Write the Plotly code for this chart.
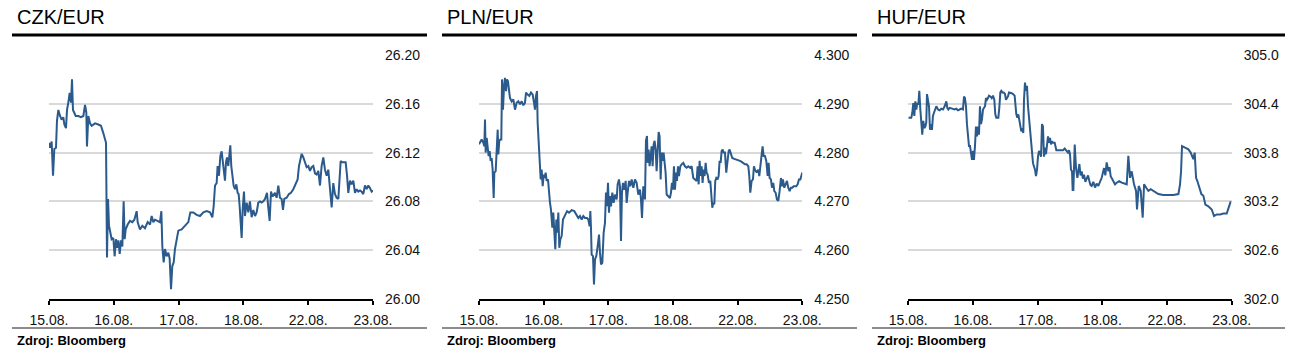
import plotly.graph_objects as go

W, H = 1303, 356

date_labels = ["15.08.", "16.08.", "17.08.", "18.08.", "22.08.", "23.08."]
titles = ["CZK/EUR", "PLN/EUR", "HUF/EUR"]
source_text = "Zdroj: Bloomberg"

czk_ticks = [26.00, 26.04, 26.08, 26.12, 26.16, 26.20]
pln_ticks = [4.250, 4.260, 4.270, 4.280, 4.290, 4.300]
huf_ticks = [302.0, 302.6, 303.2, 303.8, 304.4, 305.0]

# time in trading-day units (0 = 15.08., 5 = 23.08.)
czk_t = [0.000,0.015,0.041,0.062,0.082,0.108,0.123,0.144,0.170,0.195,0.221,0.237,0.262,0.278,0.298,0.319,0.340,0.355,0.370,0.391,
         0.412,0.453,0.494,0.530,0.556,0.576,0.586,0.607,0.633,0.658,0.710,0.761,0.802,0.838,0.864,0.880,0.895,0.911,0.926,0.947,
         0.967,0.993,1.013,1.034,1.049,1.070,1.091,1.111,1.132,1.152,1.168,1.183,1.214,1.250,1.286,1.317,1.353,1.368,1.404,1.440,
         1.481,1.523,1.559,1.584,1.610,1.636,1.677,1.713,1.734,1.749,1.770,1.790,1.816,1.842,1.862,1.883,1.903,1.924,1.944,1.970,
         1.996,2.047,2.099,2.150,2.181,2.227,2.279,2.330,2.382,2.433,2.485,2.521,2.541,2.562,
         2.587,2.602,2.623,2.644,2.664,2.680,2.695,2.716,2.731,2.747,2.767,2.783,2.798,2.813,2.829,2.849,2.870,2.891,2.911,2.927,
         2.942,2.957,2.973,2.988,3.009,3.024,3.050,3.076,3.101,3.127,3.153,3.179,3.204,3.230,3.256,3.281,3.307,3.333,3.364,3.384,
         3.405,3.426,3.451,3.487,3.513,3.539,3.564,3.590,3.611,3.631,3.667,3.703,3.734,3.770,3.806,3.837,3.858,3.878,3.899,3.925,
         3.950,3.976,4.002,4.027,4.053,4.079,4.105,4.130,4.156,4.182,4.207,4.233,4.259,4.285,4.310,4.336,4.362,4.387,4.413,4.439,
         4.465,4.480,4.501,4.526,4.552,4.578,4.598,4.619,4.645,4.670,4.696,4.722,4.748,4.773,4.799,4.825,4.850,4.876,4.902,4.928,
         4.953,4.979,5.000]
czk_v = [26.128,26.124,26.129,26.101,26.123,26.124,26.146,26.155,26.150,26.147,26.149,26.143,26.140,26.155,26.161,26.169,26.161,26.180,26.155,26.153,
         26.150,26.150,26.149,26.150,26.159,26.153,26.125,26.150,26.144,26.142,26.144,26.143,26.142,26.136,26.132,26.128,26.034,26.082,26.060,26.054,
         26.049,26.050,26.035,26.049,26.042,26.048,26.037,26.048,26.043,26.080,26.049,26.057,26.061,26.064,26.063,26.065,26.072,26.063,26.057,26.060,
         26.058,26.063,26.061,26.068,26.063,26.065,26.064,26.063,26.072,26.043,26.030,26.041,26.035,26.038,26.033,26.008,26.027,26.030,26.041,26.050,
         26.056,26.057,26.060,26.063,26.071,26.071,26.069,26.068,26.071,26.072,26.071,26.067,26.076,26.093,
         26.095,26.109,26.101,26.117,26.121,26.112,26.103,26.097,26.112,26.116,26.109,26.123,26.126,26.109,26.102,26.093,26.090,26.094,26.087,26.086,
         26.076,26.060,26.050,26.073,26.088,26.068,26.079,26.071,26.080,26.067,26.073,26.068,26.071,26.079,26.080,26.079,26.080,26.082,26.087,26.075,
         26.064,26.088,26.084,26.087,26.083,26.093,26.083,26.082,26.073,26.082,26.083,26.086,26.087,26.090,26.095,26.098,26.109,26.113,26.119,26.116,
         26.112,26.108,26.109,26.105,26.108,26.109,26.103,26.102,26.105,26.093,26.109,26.116,26.106,26.101,26.106,26.090,26.075,26.095,26.086,26.083,
         26.082,26.095,26.113,26.112,26.112,26.112,26.102,26.087,26.097,26.094,26.097,26.087,26.090,26.088,26.089,26.088,26.086,26.093,26.090,26.093,
         26.091,26.088,26.089]

pln_t = [0.000,0.021,0.041,0.067,0.082,0.093,0.103,0.119,0.134,0.149,0.165,0.180,0.196,0.211,0.227,0.237,0.258,0.273,0.289,0.299,
         0.314,0.330,0.345,0.356,0.371,0.387,0.402,0.418,0.433,0.448,0.464,0.479,0.505,0.531,0.557,0.582,0.608,0.634,0.660,0.686,
         0.711,0.727,0.753,0.778,0.804,0.830,0.851,0.866,0.881,0.897,0.907,0.923,0.938,0.954,0.969,0.985,1.000,1.015,1.031,1.046,
         1.067,1.082,1.098,1.113,1.134,1.149,1.165,1.180,1.196,1.211,1.227,1.242,1.258,1.278,1.299,1.320,1.340,1.361,1.392,1.433,
         1.474,1.510,1.536,1.562,1.588,1.613,1.639,1.670,1.691,1.711,1.722,1.732,1.742,1.763,1.778,1.794,1.814,1.835,1.856,1.871,
         1.887,1.907,1.928,1.948,1.964,1.979,1.995,2.010,2.026,2.041,2.062,2.082,2.103,2.129,2.144,2.165,2.180,2.196,2.211,2.227,
         2.247,2.268,2.284,2.299,2.320,2.340,2.361,2.387,2.412,2.438,2.464,2.490,2.505,2.521,2.541,2.567,
         2.582,2.598,2.608,2.623,2.639,2.654,2.670,2.685,2.701,2.716,2.732,2.747,2.763,2.778,2.793,2.809,2.824,2.840,2.855,2.871,
         2.886,2.902,2.928,2.953,2.969,2.984,3.000,3.015,3.031,3.046,3.062,3.077,3.092,3.113,3.134,3.159,3.185,3.211,3.237,3.263,
         3.288,3.314,3.340,3.366,3.381,3.397,3.412,3.428,3.443,3.458,3.474,3.489,3.505,3.520,3.536,3.556,3.577,3.593,3.608,3.623,
         3.639,3.654,3.670,3.690,3.706,3.721,3.737,3.752,3.768,3.783,3.804,3.824,3.845,3.861,3.876,3.897,3.917,3.948,3.984,4.010,
         4.036,4.062,4.087,4.113,4.139,4.165,4.180,4.196,4.216,4.237,4.252,4.268,4.294,4.319,4.335,4.350,4.371,4.386,4.402,4.422,
         4.443,4.464,4.479,4.495,4.515,4.531,4.551,4.567,4.587,4.608,4.629,4.649,4.670,4.685,4.701,4.721,4.742,4.763,4.783,4.804,
         4.825,4.845,4.866,4.886,4.907,4.928,4.948,4.969,4.990,5.000]
pln_v = [4.2817,4.2824,4.2827,4.2820,4.2813,4.2868,4.2800,4.2830,4.2813,4.2793,4.2803,4.2783,4.2789,4.2765,4.2707,4.2759,4.2762,4.2824,4.2847,4.2796,
         4.2824,4.2827,4.2827,4.2950,4.2888,4.2936,4.2953,4.2926,4.2950,4.2946,4.2923,4.2912,4.2905,4.2909,4.2888,4.2902,4.2905,4.2899,4.2905,4.2897,
         4.2902,4.2923,4.2919,4.2916,4.2923,4.2919,4.2902,4.2888,4.2916,4.2926,4.2861,4.2827,4.2779,4.2745,4.2765,4.2731,4.2755,4.2748,4.2759,4.2742,
         4.2745,4.2718,4.2697,4.2683,4.2646,4.2677,4.2632,4.2602,4.2663,4.2636,4.2677,4.2605,4.2622,4.2629,4.2663,4.2670,4.2673,4.2680,4.2677,4.2682,
         4.2680,4.2673,4.2666,4.2670,4.2663,4.2670,4.2666,4.2666,4.2663,4.2649,4.2680,4.2646,4.2591,4.2588,4.2530,4.2581,4.2588,4.2608,4.2632,4.2595,
         4.2571,4.2574,4.2636,4.2656,4.2718,4.2690,4.2738,4.2677,4.2711,4.2690,4.2718,4.2697,4.2714,4.2704,4.2735,4.2745,4.2731,4.2619,4.2718,4.2738,
         4.2724,4.2742,4.2697,4.2718,4.2742,4.2731,4.2745,4.2728,4.2745,4.2738,4.2714,4.2724,4.2704,4.2666,4.2731,4.2704,
         4.2824,4.2834,4.2779,4.2806,4.2772,4.2793,4.2813,4.2772,4.2817,4.2824,4.2806,4.2762,4.2813,4.2842,4.2834,4.2745,4.2800,4.2783,4.2800,4.2779,
         4.2759,4.2714,4.2711,4.2707,4.2718,4.2738,4.2724,4.2772,4.2724,4.2759,4.2742,4.2772,4.2752,4.2772,4.2776,4.2779,4.2772,4.2769,4.2772,4.2769,
         4.2772,4.2748,4.2745,4.2742,4.2772,4.2735,4.2783,4.2752,4.2772,4.2738,4.2765,4.2752,4.2779,4.2759,4.2755,4.2738,4.2742,4.2704,4.2687,4.2697,
         4.2694,4.2742,4.2748,4.2745,4.2752,4.2783,4.2779,4.2803,4.2806,4.2800,4.2800,4.2759,4.2779,4.2803,4.2806,4.2794,4.2789,4.2787,4.2786,4.2785,
         4.2783,4.2781,4.2779,4.2776,4.2776,4.2772,4.2752,4.2718,4.2742,4.2745,4.2772,4.2765,4.2759,4.2765,4.2752,4.2779,4.2796,4.2813,4.2793,4.2793,
         4.2783,4.2752,4.2779,4.2748,4.2745,4.2728,4.2738,4.2721,4.2718,4.2704,4.2701,4.2721,4.2748,4.2731,4.2745,4.2728,4.2735,4.2742,4.2728,4.2721,
         4.2728,4.2728,4.2731,4.2731,4.2731,4.2735,4.2745,4.2745,4.2752,4.2759]

huf_t = [0.000,0.021,0.046,0.062,0.077,0.093,0.108,0.124,0.139,0.155,0.170,0.186,0.201,0.216,0.232,0.247,0.263,0.278,0.289,0.304,
         0.320,0.335,0.351,0.366,0.381,0.397,0.412,0.433,0.459,0.485,0.510,0.536,0.562,0.588,0.603,0.619,0.639,0.665,0.691,0.716,
         0.742,0.768,0.794,0.820,0.845,0.861,0.876,0.892,0.907,0.923,0.938,0.954,0.969,0.985,1.000,1.015,1.031,1.046,1.062,1.077,
         1.093,1.108,1.124,1.139,1.155,1.170,1.186,1.201,1.216,1.232,1.247,1.268,1.289,1.309,1.330,1.345,1.361,1.376,1.392,1.407,
         1.423,1.438,1.454,1.474,1.495,1.510,1.526,1.541,1.557,1.577,1.598,1.619,1.644,1.670,1.686,1.701,1.716,1.732,1.747,1.763,
         1.778,1.789,1.804,1.820,1.835,1.851,1.866,1.881,1.897,1.912,1.928,1.943,1.959,1.974,1.990,2.005,2.021,2.036,2.052,2.067,
         2.082,2.098,2.113,2.129,2.144,2.160,2.175,2.191,2.206,2.222,2.237,2.263,2.289,2.314,2.340,2.366,2.392,2.418,2.443,2.469,
         2.485,2.500,2.515,2.531,2.541,
         2.552,2.573,2.593,2.614,2.630,2.645,2.663,2.681,2.699,2.717,2.738,2.758,2.779,2.799,2.817,2.835,2.861,2.887,2.912,2.938,
         2.964,2.990,3.008,3.026,3.046,3.067,3.093,3.111,3.129,3.150,3.170,3.196,3.222,3.260,3.299,3.338,3.377,3.402,3.428,3.454,
         3.490,3.521,3.536,3.562,3.593,3.624,3.645,3.676,3.712,3.748,3.789,3.830,3.866,3.944,4.021,4.098,
         4.176,4.201,4.217,4.232,4.279,4.330,4.366,4.407,4.428,4.449,4.469,4.500,4.531,4.562,4.593,4.639,4.691,4.727,4.768,4.820,
         4.871,4.923,4.954,4.985]
huf_v = [304.23,304.23,304.23,304.29,304.41,304.25,304.43,304.33,304.41,304.39,304.56,304.33,304.15,304.02,304.19,304.10,304.12,304.17,304.52,304.41,
         304.37,304.08,304.15,304.08,304.25,304.29,304.33,304.37,304.33,304.32,304.34,304.33,304.37,304.43,304.35,304.33,304.35,304.34,304.34,304.33,
         304.34,304.32,304.33,304.34,304.33,304.49,304.47,304.37,304.15,304.00,303.88,303.88,303.82,303.71,303.82,303.71,303.88,304.12,304.00,304.12,
         304.02,304.37,304.15,304.21,304.33,304.35,304.37,304.47,304.45,304.47,304.50,304.49,304.47,304.50,304.45,304.27,304.23,304.23,304.23,304.35,
         304.54,304.56,304.54,304.54,304.52,304.45,304.47,304.49,304.54,304.53,304.53,304.52,304.50,304.27,304.23,304.27,304.19,304.12,304.06,304.10,
         304.04,304.45,304.66,304.56,304.62,304.37,304.23,304.04,303.92,303.78,303.67,303.63,303.59,303.51,303.59,303.75,303.82,303.80,303.75,304.15,
         304.12,303.75,303.86,303.78,303.90,304.00,303.92,303.98,303.90,303.94,303.92,303.92,303.83,303.83,303.83,303.83,303.83,303.85,303.83,303.80,
         303.83,303.78,303.59,303.57,303.34,
         303.34,303.90,303.61,303.49,303.62,303.66,303.52,303.57,303.48,303.53,303.44,303.47,303.52,303.45,303.40,303.39,303.44,303.37,303.42,303.39,
         303.44,303.49,303.55,303.61,303.52,303.68,303.57,303.62,303.51,303.48,303.45,303.41,303.43,303.45,303.43,303.42,303.41,303.76,303.49,303.57,
         303.41,303.33,303.10,303.39,303.33,303.00,303.41,303.37,303.33,303.35,303.33,303.31,303.29,303.28,303.28,303.28,
         303.29,303.41,303.57,303.88,303.86,303.84,303.80,303.72,303.80,303.49,303.45,303.37,303.29,303.27,303.16,303.14,303.10,303.02,303.04,303.04,
         303.05,303.05,303.12,303.20]

series = [(czk_t, czk_v, czk_ticks, ".2f"), (pln_t, pln_v, pln_ticks, ".3f"), (huf_t, huf_v, huf_ticks, ".1f")]

# pixel layout helpers
def px_x(p):
    return p / W

def px_y(p):
    return 1 - p / H

x_domains = [(49, 373), (479, 802.3), (908.3, 1231.7)]
panel_lines = [(12, 427), (442, 857), (872, 1285)]
y_dom = [px_y(299), px_y(55)]

FONT = "Liberation Sans, Arial, sans-serif"
LINE_COLOR = "#2b5a8c"

fig = go.Figure()
layout = dict(
    template="none",
    width=W, height=H, autosize=False, margin=dict(l=0, r=0, t=0, b=0, pad=0),
    paper_bgcolor="white", plot_bgcolor="white", showlegend=False,
    font=dict(family=FONT, size=14, color="#111111"),
)
shapes, annotations = [], []

for i, (t, v, ticks, fmt) in enumerate(series):
    n = "" if i == 0 else str(i + 1)
    fig.add_trace(go.Scatter(x=t, y=v, mode="lines", line=dict(color=LINE_COLOR, width=2),
                             xaxis="x" + n, yaxis="y" + n, hoverinfo="skip"))
    layout["xaxis" + n] = dict(
        domain=[px_x(x_domains[i][0]), px_x(x_domains[i][1])], anchor="y" + n,
        range=[0, 5], tickvals=list(range(len(date_labels))), ticktext=date_labels,
        showgrid=False, zeroline=False, showline=True, linecolor="black", linewidth=2,
        ticks="outside", ticklen=4, tickwidth=2, tickcolor="black", automargin=False,
        tickfont=dict(family=FONT, size=14, color="#111111"), ticklabelstandoff=3,
        fixedrange=True,
    )
    layout["yaxis" + n] = dict(
        domain=y_dom, anchor="x" + n, side="right",
        range=[ticks[0], ticks[-1]], tickvals=ticks, tickformat=fmt,
        showgrid=True, gridcolor="#d9d9d9", gridwidth=2, zeroline=False, showline=False,
        ticks="", ticklabelstandoff=11, automargin=False,
        tickfont=dict(family=FONT, size=14, color="#111111"), fixedrange=True,
    )
    x0, x1 = panel_lines[i]
    shapes.append(dict(type="line", xref="paper", yref="paper", x0=px_x(x0), x1=px_x(x1),
                       y0=px_y(35), y1=px_y(35), line=dict(color="black", width=3)))
    shapes.append(dict(type="line", xref="paper", yref="paper", x0=px_x(x0), x1=px_x(x1),
                       y0=px_y(328), y1=px_y(328), line=dict(color="#8c8c8c", width=2)))
    annotations.append(dict(text=titles[i], xref="paper", yref="paper", x=px_x(x0 + 3), y=px_y(17),
                            xanchor="left", yanchor="middle", showarrow=False,
                            font=dict(family=FONT, size=20, color="black")))
    annotations.append(dict(text="<b>" + source_text + "</b>", xref="paper", yref="paper",
                            x=px_x(x0 + 3), y=px_y(340), xanchor="left", yanchor="middle",
                            showarrow=False, font=dict(family=FONT, size=13, color="black")))

layout["shapes"] = shapes
layout["annotations"] = annotations
fig.update_layout(**layout)
fig.write_html("out.html", config={"displayModeBar": False, "responsive": False},
               post_script="document.body.style.margin='0';document.body.style.padding='0';")
